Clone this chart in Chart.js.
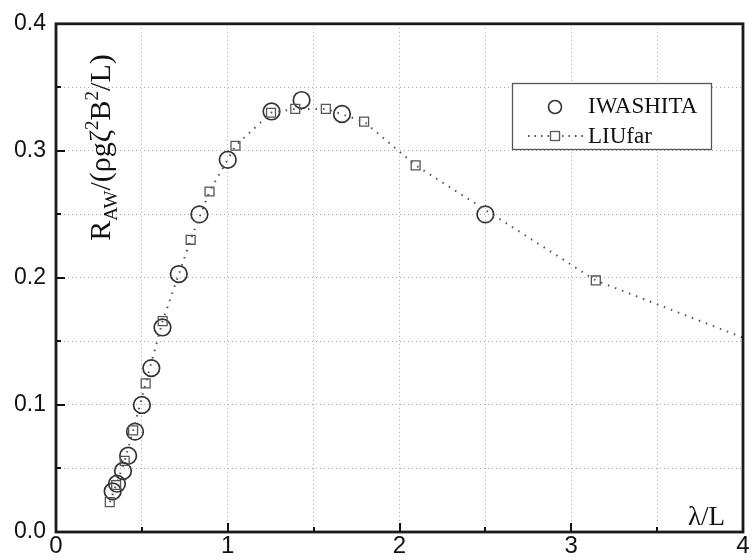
<!DOCTYPE html>
<html><head><meta charset="utf-8">
<script src="https://cdn.jsdelivr.net/npm/chart.js@4"></script>
<style>html,body{margin:0;padding:0;background:#fff}</style>
</head><body>
<canvas id="c" width="753" height="560"></canvas>
<script>
// IWASHITA (experiment, circles)
const iwashitaX = [0.33, 0.355, 0.39, 0.42, 0.46, 0.50, 0.555, 0.62, 0.715, 0.835, 1.00, 1.255, 1.43, 1.665, 2.50];
const iwashitaY = [0.032, 0.038, 0.048, 0.060, 0.079, 0.100, 0.129, 0.161, 0.203, 0.250, 0.293, 0.331, 0.340, 0.329, 0.250];
// LIUfar (computation, squares + dotted line)
const liuX = [0.313, 0.35, 0.40, 0.449, 0.522, 0.621, 0.784, 0.894, 1.045, 1.252, 1.393, 1.571, 1.794, 2.094, 3.143, 4.19];
const liuY = [0.0235, 0.037, 0.056, 0.080, 0.117, 0.166, 0.230, 0.268, 0.304, 0.330, 0.333, 0.333, 0.323, 0.2886, 0.198, 0.143];
// tick labels
const xTickLabels = [0, 1, 2, 3, 4];
const yTickLabels = ['0.0', '0.1', '0.2', '0.3', '0.4'];

const SERIF = '"Liberation Serif", "DejaVu Serif", serif';
const SANS = '"Liberation Sans", Arial, sans-serif';

const decorPlugin = {
  id: 'decor',
  afterDatasetsDraw(chart) {
    const {ctx, chartArea: a, scales: {x, y}} = chart;
    ctx.save();
    // inward ticks
    ctx.strokeStyle = '#111';
    ctx.lineWidth = 2;
    for (let k = 1; k < 8; k++) {
      const v = k * 0.05;
      const py = Math.round(y.getPixelForValue(v));
      const len = (k % 2 === 0) ? 9 : 5;
      ctx.beginPath(); ctx.moveTo(a.left, py); ctx.lineTo(a.left + len, py); ctx.stroke();
    }
    for (let k = 1; k < 8; k++) {
      const v = k * 0.5;
      const px = Math.round(x.getPixelForValue(v));
      const len = (k % 2 === 0) ? 9 : 5;
      ctx.beginPath(); ctx.moveTo(px, a.bottom); ctx.lineTo(px, a.bottom - len); ctx.stroke();
    }
    // frame
    ctx.strokeStyle = '#1a1a1a';
    ctx.lineWidth = 2.8;
    ctx.strokeRect(a.left, a.top, a.right - a.left, a.bottom - a.top);

    // x-axis title
    ctx.fillStyle = '#111';
    ctx.font = '27px ' + SERIF;
    ctx.textAlign = 'right';
    ctx.textBaseline = 'alphabetic';
    ctx.fillText('λ/L', 725, 525);

    // y-axis title (rich text, rotated)
    const segs = [
      {t: 'R', s: 30, dy: 0},
      {t: 'AW', s: 19, dy: 7},
      {t: '/(ρgζ', s: 30, dy: 0},
      {t: '2', s: 19, dy: -12},
      {t: 'B', s: 30, dy: 0},
      {t: '2', s: 19, dy: -12},
      {t: '/L)', s: 30, dy: 0}
    ];
    let total = 0;
    segs.forEach(sg => { ctx.font = sg.s + 'px ' + SERIF; sg.w = ctx.measureText(sg.t).width; total += sg.w; });
    ctx.save();
    ctx.translate(110, 147.5 + total / 2);
    ctx.rotate(-Math.PI / 2);
    ctx.textAlign = 'left';
    let cx = 0;
    segs.forEach(sg => { ctx.font = sg.s + 'px ' + SERIF; ctx.fillText(sg.t, cx, sg.dy); cx += sg.w; });
    ctx.restore();

    // legend
    ctx.fillStyle = '#fff';
    ctx.fillRect(512, 83, 200, 67);
    ctx.strokeStyle = '#555';
    ctx.lineWidth = 1.3;
    ctx.strokeRect(512.5, 83.5, 199, 66);
    ctx.strokeStyle = '#333';
    ctx.lineWidth = 1.6;
    ctx.beginPath(); ctx.arc(555, 107, 6.5, 0, Math.PI * 2); ctx.stroke();
    ctx.strokeStyle = '#555';
    ctx.lineWidth = 2;
    ctx.setLineDash([1.5, 5]);
    ctx.beginPath(); ctx.moveTo(528, 136); ctx.lineTo(549, 136); ctx.moveTo(562, 136); ctx.lineTo(584, 136); ctx.stroke();
    ctx.setLineDash([]);
    ctx.lineWidth = 1.3;
    ctx.strokeRect(550.5, 131.5, 9, 9);
    ctx.fillStyle = '#111';
    ctx.font = '23px ' + SERIF;
    ctx.textAlign = 'left';
    ctx.fillText('IWASHITA', 588, 113);
    ctx.fillText('LIUfar', 588, 143);
    ctx.restore();
  }
};

new Chart(document.getElementById('c'), {
  type: 'scatter',
  data: {
    datasets: [
      {
        label: 'LIUfar',
        data: liuX.map((v, i) => ({x: v, y: liuY[i]})),
        showLine: true,
        tension: 0,
        borderColor: '#555',
        borderWidth: 2,
        borderDash: [1.5, 6],
        pointStyle: 'rect',
        pointRadius: 6.3,
        pointBorderColor: '#555',
        pointBorderWidth: 1.3,
        pointBackgroundColor: 'rgba(255,255,255,0)'
      },
      {
        label: 'IWASHITA',
        data: iwashitaX.map((v, i) => ({x: v, y: iwashitaY[i]})),
        showLine: false,
        pointStyle: 'circle',
        pointRadius: 8.3,
        pointBorderColor: '#333',
        pointBorderWidth: 1.7,
        pointBackgroundColor: 'rgba(0,0,0,0)'
      }
    ]
  },
  options: {
    responsive: false,
    animation: false,
    devicePixelRatio: 1,
    layout: {padding: {top: 21, right: 8, left: 0, bottom: 0}},
    plugins: {legend: {display: false}, tooltip: {enabled: false}},
    scales: {
      x: {
        type: 'linear', min: 0, max: 4,
        ticks: {
          stepSize: 0.5, autoSkip: false, maxRotation: 0, padding: 0,
          color: '#111', font: {family: SANS, size: 24},
          callback: (v) => {
            const i = xTickLabels.indexOf(Math.round(v * 10) / 10);
            return i >= 0 ? String(xTickLabels[i]) : '';
          }
        },
        grid: {color: '#a8a8a8', lineWidth: 1, drawTicks: false},
        border: {display: false, dash: [1, 3]},
        afterFit: (s) => { s.height = 28; }
      },
      y: {
        type: 'linear', min: 0, max: 0.4,
        ticks: {
          stepSize: 0.05, autoSkip: false, padding: 10,
          color: '#111', font: {family: SANS, size: 23},
          callback: (v) => {
            const r = Math.round(v * 100);
            return r % 10 === 0 ? yTickLabels[r / 10] : '';
          }
        },
        grid: {color: '#a8a8a8', lineWidth: 1, drawTicks: false},
        border: {display: false, dash: [1, 3]},
        afterFit: (s) => { s.width = 56; }
      }
    }
  },
  plugins: [decorPlugin]
});
</script>
</body></html>
